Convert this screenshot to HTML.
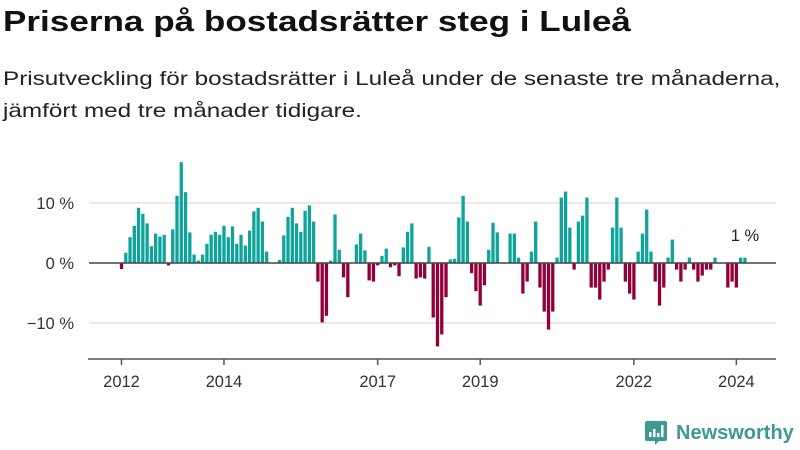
<!DOCTYPE html>
<html><head><meta charset="utf-8"><style>
body{margin:0;width:800px;height:450px;background:#fff;font-family:"Liberation Sans","DejaVu Sans",sans-serif;overflow:hidden;position:relative}
h1{position:absolute;left:3px;top:6px;margin:0;font-size:29px;font-weight:bold;color:#111;transform:scaleX(1.21);transform-origin:left top;white-space:nowrap}
.sub{position:absolute;left:3px;top:63px;font-size:19.5px;line-height:32px;color:#222;transform:scaleX(1.245);transform-origin:left top;white-space:nowrap}
svg{position:absolute;left:0;top:0}
</style></head><body>
<h1>Priserna på bostadsrätter steg i Luleå</h1>
<div class="sub">Prisutveckling för bostadsrätter i Luleå under de senaste tre månaderna,<br>jämfört med tre månader tidigare.</div>
<svg id="chart" width="800" height="450"></svg>
<script>
const startYear = 2012;
const values = [-1,1.7,4.3,6.2,9.2,8.2,6.6,2.8,4.9,4.4,4.7,-0.4,5.6,11.2,16.8,11.8,5.1,1.4,0.4,1.4,3.2,4.7,5.2,4.7,6.2,4.3,6.1,3.2,4.7,2.9,5.4,8.6,9.2,6.9,1.9,
0,0,
0.5,4.6,7.7,9.2,6.6,5.2,8.7,9.6,6.9,-3.1,-9.9,-8.8,0.4,8.1,2.2,-2.4,-5.7,0,3.1,4.9,2.1,-2.9,-3.1,-0.4,1.2,2.4,-0.7,-0.4,-2.2,2.6,5.2,6.6,-2.6,-2.4,-2.6,2.7,-9.1,-13.9,-11.9,-5.7,0.6,0.7,7.6,
11.2,6.9,-1.7,-4.7,-7.1,-3.7,2.2,6.7,5.1,0,0,4.9,4.9,0.9,-5.1,-3.1,1.9,6.9,-4.1,-8.1,-11.1,-8.1,0.9,10.9,11.9,5.9,-1.1,6.9,7.9,10.9,-4.1,-4.1,-6.1,-3.1,-1.1,5.9,10.9,5.9,-3.1,-5.1,
-6.1,1.9,4.9,8.9,1.9,-3.1,-7.1,-4.1,0.9,3.9,-1.1,-3.1,-1.1,0.9,-1.1,-3.1,-2.1,-1.1,-1.1,0.9,0,0,-4.1,-3.1,-4.1,0.9,0.9];
const yTicks = [10,0,-10];
const yTickLabels = ["10 %","0 %","\u221210 %"];
const xTickYears = [2012,2014,2017,2019,2022,2024];
const lastLabel = "1 %";

const NS="http://www.w3.org/2000/svg";
const svg=document.getElementById('chart');
const x0=121.5, step=4.27;
function xScale(i){return x0+i*step;}
function xYear(y){return xScale((y-startYear)*12);}
function yScale(v){return 263-v*6;}
function mk(tag,attrs,parent){const e=document.createElementNS(NS,tag);for(const k in attrs)e.setAttribute(k,attrs[k]);(parent||svg).appendChild(e);return e;}

yTicks.forEach((t,i)=>{
  if(t!==0){
    const g=mk('line',{x1:89,x2:776,y1:yScale(t),y2:yScale(t),stroke:'#e2e2e2','stroke-width':1.5});
    
    
  }
  const tx=mk('text',{x:74,y:yScale(t)+6,'text-anchor':'end','font-size':16.5,fill:'#333'});
  tx.textContent=yTickLabels[i];
  
  
});
values.forEach((v,i)=>{
  const y=yScale(Math.max(v,0)),h=Math.abs(v)*6;
  if(h<=0)return;
  const r=mk('rect',{x:xScale(i)-1.65,y:y,width:3.3,height:h,fill:v>=0?'#0ea499':'#930039'});
  
  
});
const z=mk('line',{x1:89,x2:776,y1:263,y2:263,stroke:'#444','stroke-width':1.5});


const ax=mk('line',{x1:88,x2:776,y1:359,y2:359,stroke:'#555','stroke-width':1.5});


xTickYears.forEach(yr=>{
  const x=xYear(yr);
  const tk=mk('line',{x1:x,x2:x,y1:359,y2:365,stroke:'#555','stroke-width':1.5});
  
  
  const t=mk('text',{x:x,y:387,'text-anchor':'middle','font-size':16.5,fill:'#333'});
  t.textContent=yr;
  
  
});
const ll=mk('text',{x:xScale(values.length-1),y:241,'text-anchor':'middle','font-size':16.5,fill:'#222'});
ll.textContent=lastLabel;


</script>
<div style="position:absolute;left:645px;top:421px;display:flex;align-items:center;gap:9px">
<svg width="22" height="24" viewBox="0 0 22 24" style="position:static"><path d="M2 0H20Q22 0 22 2V18Q22 20 20 20H14L10 24V20H2Q0 20 0 18V2Q0 0 2 0Z" fill="#3d9a90"/><rect x="4" y="11" width="2.5" height="5" fill="#fff"/><rect x="8" y="8" width="2.5" height="8" fill="#fff"/><rect x="12" y="12" width="2.5" height="4" fill="#fff"/><rect x="16" y="4" width="2.5" height="12" fill="#fff"/></svg>
<span style="font-size:20px;color:#3d9a90;font-weight:bold;font-family:'Liberation Sans',sans-serif">Newsworthy</span>
</div>
</body></html>
